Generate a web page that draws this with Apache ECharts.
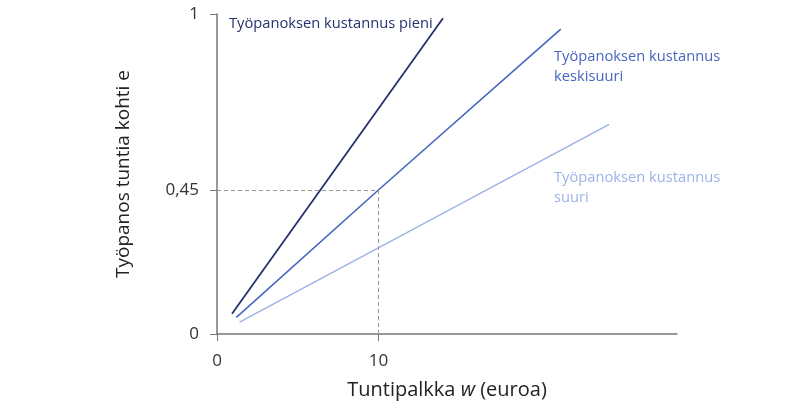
<!DOCTYPE html>
<html>
<head>
<meta charset="utf-8">
<script src="https://cdn.jsdelivr.net/npm/echarts@6/dist/echarts.min.js"></script>
<style>
  html, body { margin: 0; padding: 0; background: #fff; }
  #main { width: 809px; height: 412px; }
</style>
</head>
<body>
<div id="main"></div>
<script>
// tuntipalkka w ja työpanos e, luettu kuvasta
var pieni = [[0.93, 0.063], [14.0, 0.987]];
var keskisuuri = [[1.2, 0.052], [10, 0.45], [21.3, 0.953]];
var suuri = [[1.4, 0.037], [24.3, 0.655]];
var yTicks = [0, 0.45, 1];
var xTicks = [0, 10];

var font = '"Open Sans", "Noto Sans", sans-serif';
var chart = echarts.init(document.getElementById('main'));

var option = {
  animation: false,
  grid: { left: 217, right: 132, top: 14, bottom: 78 },
  xAxis: {
    type: 'value', min: 0, max: 28.5,
    name: '{n|Tuntipalkka }{i|w}{n| (euroa)}',
    nameLocation: 'middle', nameGap: 46,
    nameTextStyle: {
      rich: {
        n: { fontSize: 20, color: '#222', fontFamily: font },
        i: { fontSize: 20, color: '#222', fontFamily: font, fontStyle: 'italic' }
      }
    },
    axisLine: { show: true, lineStyle: { color: '#777', width: 1.5 } },
    axisTick: { show: true, customValues: xTicks, length: 7, lineStyle: { color: '#777' } },
    axisLabel: { customValues: xTicks, fontSize: 17, color: '#333', fontFamily: font, margin: 19 },
    splitLine: { show: false }
  },
  yAxis: {
    type: 'value', min: 0, max: 1,
    name: 'Työpanos tuntia kohti e',
    nameLocation: 'middle', nameGap: 84,
    nameTextStyle: { fontSize: 19, color: '#222', fontFamily: font },
    axisLine: { show: true, lineStyle: { color: '#777', width: 1.5 } },
    axisTick: { show: true, customValues: yTicks, length: 7, lineStyle: { color: '#777' } },
    axisLabel: {
      customValues: yTicks, fontSize: 17, color: '#333', fontFamily: font, margin: 18,
      formatter: function (v) { return String(v).replace('.', ','); }
    },
    splitLine: { show: false }
  },
  series: [
    {
      type: 'line', data: pieni, symbol: 'none',
      lineStyle: { color: '#27306e', width: 1.8 }
    },
    {
      type: 'line', data: keskisuuri, symbol: 'none',
      lineStyle: { color: '#4766bd', width: 1.6 },
      markLine: {
        silent: true, symbol: 'none', label: { show: false },
        lineStyle: { color: '#999', type: [4, 3], width: 1 },
        data: [
          [{ coord: [0, 0.45] }, { coord: [10, 0.45] }],
          [{ coord: [10, 0] }, { coord: [10, 0.45] }]
        ]
      }
    },
    {
      type: 'line', data: suuri, symbol: 'none',
      lineStyle: { color: '#9db3e5', width: 1.4 }
    }
  ],
  graphic: [
    { type: 'text', left: 229, top: 16, style: { text: 'Työpanoksen kustannus pieni', fill: '#27306e', fontSize: 14.7, fontFamily: font } },
    { type: 'text', left: 554, top: 47, style: { text: 'Työpanoksen kustannus\nkeskisuuri', fill: '#4766bd', fontSize: 14.7, lineHeight: 20, fontFamily: font } },
    { type: 'text', left: 554, top: 168, style: { text: 'Työpanoksen kustannus\nsuuri', fill: '#9db3e5', fontSize: 14.7, lineHeight: 20, fontFamily: font } }
  ]
};
chart.setOption(option);
</script>
</body>
</html>
